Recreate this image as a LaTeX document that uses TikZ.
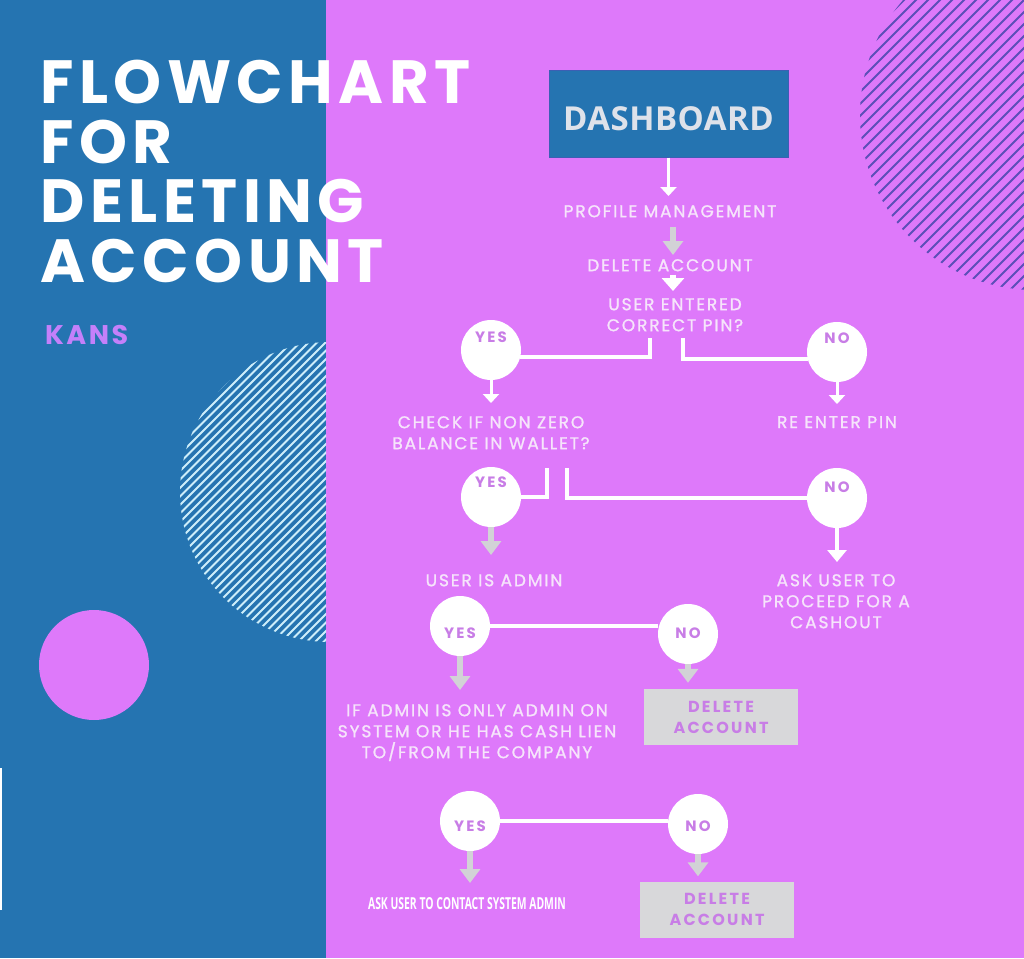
\documentclass[tikz,border=0pt]{standalone}
\usepackage{fontspec}
\usepackage{graphicx}
\setmainfont{Poppins}
\newfontfamily\bodyfont{Poppins}[LetterSpace=11,FakeBold=1.3]
\newfontfamily\titlefont{Poppins}[LetterSpace=9]
\newfontfamily\ynfont{Poppins}[LetterSpace=14]
\newfontfamily\kansfont{Poppins}[LetterSpace=9]
\newfontfamily\dashfont{Open Sans}[LetterSpace=1.5]
\newfontfamily\condfont{Open Sans}
\usetikzlibrary{arrows.meta}
\definecolor{panelblue}{RGB}{37,116,177}
\definecolor{panelpink}{RGB}{222,121,250}
\definecolor{txtpink}{RGB}{246,228,250}
\definecolor{lblpurple}{RGB}{200,125,230}
\definecolor{boxgray}{RGB}{216,216,218}
\definecolor{arrowgray}{RGB}{210,210,214}
\definecolor{hatchdark}{RGB}{92,78,184}
\definecolor{hatchlight}{RGB}{205,238,250}
\definecolor{kanscol}{RGB}{196,128,250}
\definecolor{dashtxt}{RGB}{222,226,234}
\definecolor{dashline}{RGB}{60,95,180}
\begin{document}
\begin{tikzpicture}[x=1pt,y=-1pt,
  txt/.style={anchor=north, inner sep=0pt, align=center, text=txtpink,
    font=\bodyfont\fontsize{17}{21}\selectfont},
  yn/.style={circle, fill=white, minimum size=60pt, inner sep=0pt},
  ynl/.style={font=\ynfont\bfseries\fontsize{15}{16}\selectfont, text=lblpurple, inner sep=0pt},
  conn/.style={draw=white, line width=4pt},
  warrow/.style={draw=white, line width=3pt, -{Triangle[width=16pt,length=9pt]}},
  wmid/.style={draw=white, line width=3.5pt, -{Triangle[width=19pt,length=12pt]}},
  wfat/.style={draw=white, line width=6pt, -{Triangle[width=22pt,length=13pt]}},
  garrow/.style={draw=arrowgray, line width=6pt, -{Triangle[width=20pt,length=14pt]}},
  dbox/.style={fill=boxgray, minimum width=154pt, minimum height=56pt, inner sep=0pt,
    align=center, text=lblpurple, font=\ynfont\bfseries\fontsize{16}{21}\selectfont},
  dashbox/.style={fill=panelblue, draw=dashline, line width=1pt, minimum width=239pt,
    minimum height=87pt, inner sep=0pt, text=dashtxt, text height=33.5pt, text depth=0pt,
    font=\dashfont\bfseries\fontsize{33}{36}\selectfont},
  condtxt/.style={anchor=north, inner sep=0pt, text=white,
    font=\condfont\bfseries\fontsize{16.5}{18}\selectfont}
]
\useasboundingbox (0,0) rectangle (1024,958);
% panels
\fill[panelblue] (0,0) rectangle (326,958);
\fill[panelpink] (326,0) rectangle (1024,958);
\fill[white] (0,768) rectangle (1.5,910);
% top-right hatched circle
\begin{scope}
  \clip (1035,115) circle (175pt);
  \foreach \c in {880,892,...,1420} \draw[hatchdark, line width=1.8pt] (\c-700,700) -- (\c+700,-700);
\end{scope}
% left hatched circle
\begin{scope}
  \clip (0,0) rectangle (326,958);
  \clip (330,492) circle (150pt);
  \foreach \c in {600,608.5,...,1050} \draw[hatchlight, line width=1.8pt] (\c-700,700) -- (\c+700,-700);
\end{scope}
% solid pink circle
\fill[panelpink] (94,665) circle (55pt);
% title
\node[anchor=north west, inner sep=0pt, align=left, text=white,
  font=\titlefont\bfseries\fontsize{61}{59.5}\selectfont] (title) at (40,60)
  {FLOWCHART\\FOR\\DELETING\\ACCOUNT};
\node[anchor=north west, inner sep=0pt, text=kanscol,
  font=\kansfont\bfseries\fontsize{27}{30}\selectfont] (kans) at (45,325) {KANS};
% flowchart nodes
\node[dashbox] (dash) at (668.5,113.5) {DASHBOARD};
\node[txt] (pm) at (670,205) {PROFILE MANAGEMENT};
\node[txt] (da) at (670,259) {DELETE ACCOUNT};
\node[txt] (q) at (675,298) {USER ENTERED\\CORRECT PIN?};
\node[yn, label={[ynl, yshift=13pt]center:YES}] (y1) at (491,350) {};
\node[yn, label={[ynl, yshift=14pt]center:NO}] (n1) at (837,352) {};
\node[txt] (chk) at (491,416) {CHECK IF NON ZERO\\BALANCE IN WALLET?};
\node[txt] (re) at (837,416) {RE ENTER PIN};
\node[yn, label={[ynl, yshift=15pt]center:YES}] (y2) at (491,497) {};
\node[yn, label={[ynl, yshift=11pt]center:NO}] (n2) at (837,498) {};
\node[txt] (adm) at (494,574) {USER IS ADMIN};
\node[txt] (cash) at (836,574) {ASK USER TO\\PROCEED FOR A\\CASHOUT};
\node[yn, label={[ynl, yshift=-7pt]center:YES}] (y3) at (460,626) {};
\node[yn, label={[ynl, yshift=1pt]center:NO}] (n3) at (688,634) {};
\node[dbox] (del1) at (721,717) {DELETE\\ACCOUNT};
\node[txt] (only) at (477,704) {IF ADMIN IS ONLY ADMIN ON\\SYSTEM OR HE HAS CASH LIEN\\TO/FROM THE COMPANY};
\node[yn, label={[ynl, yshift=-5pt]center:YES}] (y4) at (470,821) {};
\node[yn, label={[ynl, yshift=-2pt]center:NO}] (n4) at (698,824) {};
\node[condtxt] (contact) at (467,897) {\scalebox{0.63}[1]{ASK USER TO CONTACT SYSTEM ADMIN}};
\node[dbox] (del2) at (717,909.5) {DELETE\\ACCOUNT};
% brackets
\coordinate (qL) at (650,338);
\coordinate (qR) at (683,338);
\draw[conn] (qL) |- (y1.-13);
\draw[conn] (qR) |- (n1.193);
\coordinate (cL) at (547,468);
\coordinate (cR) at (567,468);
\draw[conn] (cL) |- (y2.east);
\draw[conn] (cR) |- (n2.west);
\draw[conn] (y3.east) -- (y3.east -| n3.west);
\draw[conn] (y4.east) -- (y4.east -| n4.west);
% arrows
\draw[warrow, shorten >=9pt] (dash.south) -- (dash.south |- pm.north);
\draw[garrow, shorten <=9pt, shorten >=4pt] ([xshift=3pt]pm.south) -- ([xshift=3pt]pm.south |- da.north);
\draw[wfat, shorten <=3pt, shorten >=7pt] ([xshift=3pt]da.south) -- ([xshift=3pt]da.south |- q.north);
\draw[warrow, shorten >=13pt] (y1.south) -- (y1.south |- chk.north);
\draw[warrow, shorten >=12pt] (n1.south) -- (n1.south |- re.north);
\draw[garrow, shorten >=19pt] (y2.south) -- (y2.south |- adm.north);
\draw[wmid, shorten >=12pt] (n2.south) -- (n2.south |- cash.north);
\draw[garrow, shorten >=14pt] (y3.south) -- (y3.south |- only.north);
\draw[garrow, shorten >=6pt] (n3.south) -- (n3.south |- del1.north);
\draw[garrow, shorten >=14pt] (y4.south) -- (y4.south |- contact.north);
\draw[garrow, shorten >=5pt] (n4.south) -- (n4.south |- del2.north);
\end{tikzpicture}
\end{document}
